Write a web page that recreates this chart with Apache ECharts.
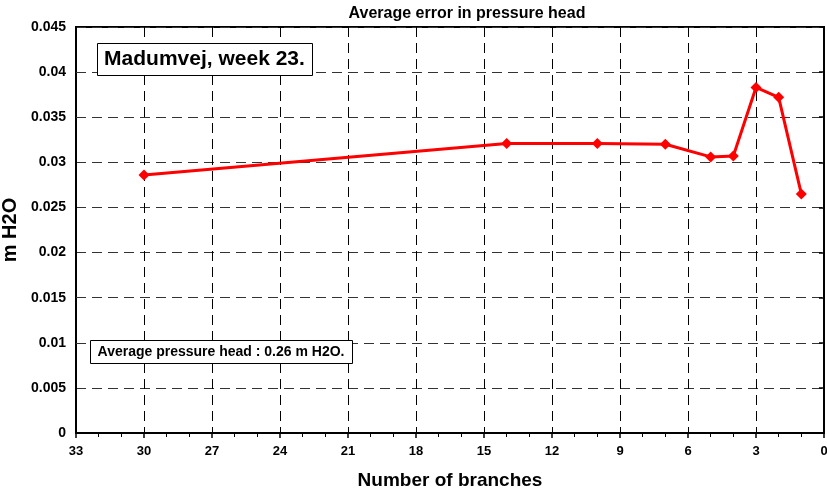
<!DOCTYPE html>
<html><head><meta charset="utf-8">
<script src="https://cdn.jsdelivr.net/npm/echarts@6/dist/echarts.min.js"></script>
<style>html,body{margin:0;padding:0;background:#fff}#c{width:827px;height:495px}</style>
</head><body><div id="c"></div>
<script>
const branches = [30, 14, 10, 7, 5, 4, 3, 2, 1];
const avgError = [0.0286, 0.0321, 0.0321, 0.0320, 0.0306, 0.0307, 0.0383, 0.0372, 0.0265];
const titleText = 'Average error in pressure head';
const xName = 'Number of branches';
const yName = 'm H2O';
const label1 = 'Madumvej, week 23.';
const label2 = 'Average pressure head : 0.26 m H2O.';

const FONT = 'Liberation Sans, Arial, sans-serif';
const chart = echarts.init(document.getElementById('c'), null, {renderer: 'canvas'});
chart.setOption({
  animation: false,
  backgroundColor: '#fff',
  title: {text: titleText, left: 462, top: 1, textAlign: 'center',
    textStyle: {fontFamily: FONT, fontWeight: 'bold', fontSize: 16, color: '#000'}},
  grid: {left: 76, right: 3, top: 27, bottom: 62, show: true, borderColor: '#000', borderWidth: 2,
    backgroundColor: 'transparent', outerBoundsMode: 'none', containLabel: false},
  xAxis: {
    type: 'value', inverse: true, min: 0, max: 33, interval: 3,
    name: xName, nameLocation: 'middle', nameGap: 38,
    nameTextStyle: {fontFamily: FONT, fontWeight: 'bold', fontSize: 19, color: '#000'},
    axisLine: {show: true, lineStyle: {color: '#000', width: 2}},
    axisTick: {show: true, length: 5, lineStyle: {color: '#000', width: 1.5}},
    minorTick: {show: true, splitNumber: 3, length: 4, lineStyle: {color: '#000', width: 1}},
    axisLabel: {fontFamily: FONT, fontWeight: 'bold', fontSize: 13, color: '#000', margin: 12},
    splitLine: {show: true, lineStyle: {color: '#000', type: [10, 6], width: 1}}
  },
  yAxis: {
    type: 'value', min: 0, max: 0.045, interval: 0.005,
    name: yName, nameLocation: 'middle', nameGap: 56,
    nameTextStyle: {fontFamily: FONT, fontWeight: 'bold', fontSize: 20, color: '#000'},
    axisLine: {show: true, lineStyle: {color: '#000', width: 2}},
    axisTick: {show: true, length: 5, lineStyle: {color: '#000', width: 1.5}},
    axisLabel: {fontFamily: FONT, fontWeight: 'bold', fontSize: 14, color: '#000', margin: 10,
      formatter: v => String(+v.toFixed(3))},
    splitLine: {show: true, lineStyle: {color: '#333', type: [10, 6], width: 1}}
  },
  series: [{
    type: 'line',
    data: branches.map((b, i) => [b, avgError[i]]),
    symbol: 'diamond', symbolSize: 11,
    lineStyle: {color: '#ff0000', width: 3},
    itemStyle: {color: '#ff0000'}
  }],
  graphic: [
    {type: 'rect', left: 97, top: 43, shape: {width: 215, height: 32},
      style: {fill: '#fff', stroke: '#000', lineWidth: 1}, z: 100},
    {type: 'text', x: 204.5, y: 59.5, z: 101,
      style: {text: label1, fontFamily: FONT, fontWeight: 'bold', fontSize: 21, fill: '#000',
        align: 'center', verticalAlign: 'middle'}},
    {type: 'rect', left: 90, top: 340, shape: {width: 262, height: 23},
      style: {fill: '#fff', stroke: '#000', lineWidth: 1}, z: 100},
    {type: 'text', x: 221, y: 352, z: 101,
      style: {text: label2, fontFamily: FONT, fontWeight: 'bold', fontSize: 14, fill: '#000',
        align: 'center', verticalAlign: 'middle'}}
  ]
});
</script></body></html>
